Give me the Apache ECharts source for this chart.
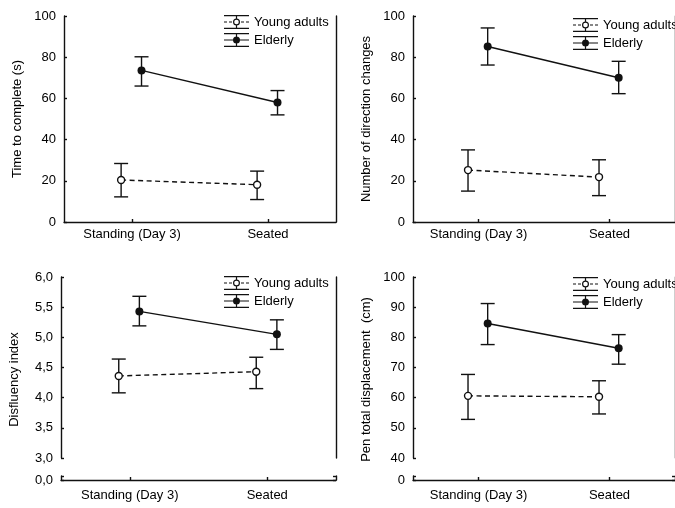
<!DOCTYPE html>
<html>
<head>
<meta charset="utf-8">
<script src="https://cdn.jsdelivr.net/npm/echarts@6/dist/echarts.min.js"></script>
<style>
html,body{margin:0;padding:0;background:#fff;}
#chart{width:675px;height:508px;}
</style>
</head>
<body>
<div id="chart"></div>
<script>
// ---------- data ----------
const categories = ['Standing (Day 3)', 'Seated'];
const seriesNames = ['Young adults', 'Elderly'];

// Panel 1: Time to complete (s)
const timeYoung = [20.4, 18.1];
const timeYoungLow = [12.2, 10.9];
const timeYoungHigh = [28.4, 24.7];
const timeElderly = [73.6, 58.0];
const timeElderlyLow = [66.0, 52.0];
const timeElderlyHigh = [80.2, 63.8];

// Panel 2: Number of direction changes
const dirYoung = [25.2, 21.8];
const dirYoungLow = [15.0, 12.8];
const dirYoungHigh = [35.0, 30.2];
const dirElderly = [85.2, 70.0];
const dirElderlyLow = [76.2, 62.3];
const dirElderlyHigh = [94.2, 78.0];

// Panel 3: Disfluency index
const disYoung = [4.36, 4.43];
const disYoungLow = [4.08, 4.15];
const disYoungHigh = [4.64, 4.67];
const disElderly = [5.43, 5.05];
const disElderlyLow = [5.19, 4.80];
const disElderlyHigh = [5.68, 5.29];

// Panel 4: Pen total displacement (cm)
const penYoung = [60.6, 60.3];
const penYoungLow = [52.8, 54.6];
const penYoungHigh = [67.7, 65.6];
const penElderly = [84.6, 76.4];
const penElderlyLow = [77.6, 71.1];
const penElderlyHigh = [91.2, 80.9];

// axis names / labels
const axisNames = ['Time to complete (s)', 'Number of direction changes', 'Disfluency index', 'Pen total displacement  (cm)'];
const breakLabels = ['0,0', '0'];   // label at the broken-axis origin (panels 3, 4)

// ---------- style constants ----------
const FONT = 'Liberation Sans, Arial, sans-serif';
const FS = 13;
const INK = '#111';
const LW = 1.4;
const CAP = 14;
const OFF_YOUNG = -0.08;
const OFF_ELDERLY = 0.07;

function pts(vals, off) { return vals.map((v, i) => [i + off, v]); }
function errs(lo, hi, off) { return lo.map((l, i) => [i + off, l, hi[i]]); }

function renderErr(params, api) {
  const x = api.value(0), lo = api.value(1), hi = api.value(2);
  const a = api.coord([x, hi]), b = api.coord([x, lo]);
  const hw = CAP / 2;
  const st = { stroke: INK, lineWidth: LW };
  return { type: 'group', children: [
    { type: 'line', shape: { x1: a[0], y1: a[1], x2: b[0], y2: b[1] }, style: st },
    { type: 'line', shape: { x1: a[0] - hw, y1: a[1], x2: a[0] + hw, y2: a[1] }, style: st },
    { type: 'line', shape: { x1: b[0] - hw, y1: b[1], x2: b[0] + hw, y2: b[1] }, style: st }
  ]};
}

const textStyle = { fontFamily: FONT, fontSize: FS, color: '#000' };
const axisLine = { show: true, onZero: false, lineStyle: { color: INK, width: LW } };

// legend icons (25 x 14 box)
const ICON_YOUNG = 'path://M0 0H25V1.2H0Z M0 12.8H25V14H0Z M11.9 1.2H13.1V3.5H11.9Z M11.9 10.5H13.1V12.8H11.9Z ' +
  'M0 6.4H3V7.6H0Z M5 6.4H8V7.6H5Z M17 6.4H20V7.6H17Z M22 6.4H25V7.6H22Z ' +
  'M9 7A3.5 3.5 0 1 1 16 7A3.5 3.5 0 1 1 9 7Z M10.2 7A2.3 2.3 0 1 0 14.8 7A2.3 2.3 0 1 0 10.2 7Z';
const ICON_ELDERLY = 'path://M0 0H25V1.2H0Z M0 12.8H25V14H0Z M11.9 0H13.1V14H11.9Z M0 6.4H25V7.6H0Z ' +
  'M9 7A3.5 3.5 0 1 1 16 7A3.5 3.5 0 1 1 9 7Z';

function legendAt(left, top) {
  return {
    orient: 'vertical', left: left, top: top, itemWidth: 25, itemHeight: 14, itemGap: 4,
    selectedMode: false, padding: 0, textStyle: textStyle,
    data: [
      { name: seriesNames[0], icon: ICON_YOUNG, itemStyle: { color: INK, borderWidth: 0 } },
      { name: seriesNames[1], icon: ICON_ELDERLY, itemStyle: { color: INK, borderWidth: 0 } }
    ]
  };
}

const grids = [
  { left: 64, top: 16, width: 272, height: 206 },     // 0 panel 1
  { left: 413, top: 16, width: 272, height: 206 },    // 1 panel 2
  { left: 61, top: 277, width: 275, height: 181 },    // 2 panel 3 main
  { left: 61, top: 476, width: 275, height: 4 },      // 3 panel 3 base
  { left: 413, top: 277, width: 272, height: 181 },   // 4 panel 4 main
  { left: 413, top: 476, width: 272, height: 4 }      // 5 panel 4 base
];

function catAxis(gi, margin) {
  return {
    type: 'category', gridIndex: gi, data: categories, boundaryGap: true,
    axisLine: axisLine,
    axisTick: { show: true, alignWithLabel: true, inside: true, length: 3, lineStyle: { color: INK, width: LW } },
    axisLabel: Object.assign({ margin: margin, interval: 0 }, textStyle),
    splitLine: { show: false }
  };
}
function valX(gi) {
  return { type: 'value', gridIndex: gi, min: -0.5, max: 1.5, show: false, splitLine: { show: false } };
}
function leftY(gi, min, max, interval, fmt, name, pad) {
  return {
    type: 'value', gridIndex: gi, min: min, max: max, interval: interval, position: 'left',
    name: name, nameLocation: 'middle', nameGap: 40,
    nameTextStyle: Object.assign({ padding: pad || 0 }, textStyle),
    axisLine: axisLine,
    axisTick: { show: true, inside: true, length: 3, lineStyle: { color: INK, width: LW } },
    axisLabel: Object.assign({ margin: 8, formatter: fmt }, textStyle),
    splitLine: { show: false }
  };
}
function rightY(gi, min, max, interval, ticks) {
  return {
    type: 'value', gridIndex: gi, min: min, max: max, interval: interval, position: 'right',
    axisLine: axisLine,
    axisTick: ticks ? { show: true, inside: true, length: 3, lineStyle: { color: INK, width: LW } } : { show: false },
    axisLabel: { show: false }, splitLine: { show: false }
  };
}

const comma = v => v.toFixed(1).replace('.', ',');
const plain = v => String(v);

const xAxis = [
  catAxis(0, 6), valX(0),
  catAxis(1, 6), valX(1),
  valX(2), catAxis(3, 9),
  valX(4), catAxis(5, 9)
];
const yAxis = [
  leftY(0, 0, 100, 20, plain, axisNames[0]), rightY(0, 0, 100, 20, false),
  leftY(1, 0, 100, 20, plain, axisNames[1]), rightY(1, 0, 100, 20, false),
  leftY(2, 3, 6, 0.5, comma, axisNames[2], [0, 24, 0, 0]), rightY(2, 3, 6, 0.5, false),
  leftY(3, 0, 1, 1, v => (v === 0 ? breakLabels[0] : '')), rightY(3, 0, 1, 1, true),
  leftY(4, 40, 100, 10, plain, axisNames[3], [0, 24, 0, 0]), rightY(4, 40, 100, 10, false),
  leftY(5, 0, 1, 1, v => (v === 0 ? breakLabels[1] : '')), rightY(5, 0, 1, 1, true)
];

function panelSeries(xi, yi, y, yl, yh, e, el, eh) {
  return [
    { type: 'custom', name: seriesNames[0], xAxisIndex: xi, yAxisIndex: yi, renderItem: renderErr,
      encode: { x: 0, y: [1, 2] }, data: errs(yl, yh, OFF_YOUNG), z: 1, silent: true },
    { type: 'custom', name: seriesNames[1], xAxisIndex: xi, yAxisIndex: yi, renderItem: renderErr,
      encode: { x: 0, y: [1, 2] }, data: errs(el, eh, OFF_ELDERLY), z: 1, silent: true },
    { type: 'line', name: seriesNames[0], xAxisIndex: xi, yAxisIndex: yi, data: pts(y, OFF_YOUNG),
      symbol: 'circle', symbolSize: 7, z: 3, silent: true,
      lineStyle: { color: INK, width: LW, type: [5, 3.5] },
      itemStyle: { color: '#fff', borderColor: INK, borderWidth: LW } },
    { type: 'line', name: seriesNames[1], xAxisIndex: xi, yAxisIndex: yi, data: pts(e, OFF_ELDERLY),
      symbol: 'circle', symbolSize: 8, z: 3, silent: true,
      lineStyle: { color: INK, width: LW },
      itemStyle: { color: INK, borderColor: INK, borderWidth: 0 } }
  ];
}

const series = [].concat(
  panelSeries(1, 0, timeYoung, timeYoungLow, timeYoungHigh, timeElderly, timeElderlyLow, timeElderlyHigh),
  panelSeries(3, 2, dirYoung, dirYoungLow, dirYoungHigh, dirElderly, dirElderlyLow, dirElderlyHigh),
  panelSeries(4, 4, disYoung, disYoungLow, disYoungHigh, disElderly, disElderlyLow, disElderlyHigh),
  panelSeries(6, 8, penYoung, penYoungLow, penYoungHigh, penElderly, penElderlyLow, penElderlyHigh)
);

const chart = echarts.init(document.getElementById('chart'), null, { renderer: 'canvas' });
chart.setOption({
  backgroundColor: '#fff',
  animation: false,
  grid: grids,
  xAxis: xAxis,
  yAxis: yAxis,
  legend: [legendAt(224, 15), legendAt(573, 18), legendAt(224, 276), legendAt(573, 277)],
  series: series
});
</script>
</body>
</html>
